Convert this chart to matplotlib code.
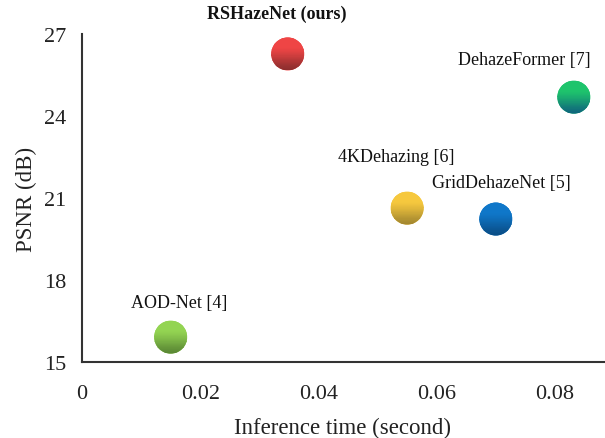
import numpy as np
import matplotlib
matplotlib.use("Agg")
import matplotlib.pyplot as plt
from matplotlib.patches import Circle, Rectangle
from matplotlib.transforms import ScaledTranslation
from matplotlib.colors import to_rgb

methods = ["RSHazeNet (ours)", "DehazeFormer [7]", "4KDehazing [6]", "GridDehazeNet [5]", "AOD-Net [4]"]
times = [0.0348, 0.0832, 0.0550, 0.0700, 0.0150]
psnr = [26.27, 24.69, 20.63, 20.23, 15.91]
top_colors = ["#ef4545", "#1ec46c", "#f6c83e", "#0f77c9", "#93d452"]
bottom_colors = ["#8c2e2e", "#0f667c", "#a3872f", "#0a4d86", "#5a8734"]
label_offsets = [(-8, 29), (-36, 27), (-8, 37), (4, 26), (6, 25)]
bold = [True, False, False, False, False]
xticks = [0, 0.02, 0.04, 0.06, 0.08]
xtick_labels = ["0", "0.02", "0.04", "0.06", "0.08"]
yticks = [15, 18, 21, 24, 27]

plt.rcParams['font.family'] = ['Liberation Serif', 'DejaVu Serif']

fig = plt.figure(figsize=(6.05, 4.39), dpi=100)
ax = fig.add_axes([82/605, 1-363/439, 522/605, (363-35)/439])
ax.set_xlim(0, 0.0883)
ax.set_ylim(15, 27)
ax.set_xticks(xticks)
ax.set_xticklabels(xtick_labels)
ax.set_yticks(yticks)
for s in ["top", "right"]:
    ax.spines[s].set_visible(False)
for s in ["left", "bottom"]:
    ax.spines[s].set_color("#333333")
    ax.spines[s].set_linewidth(1.5)
ax.tick_params(axis="both", length=0, labelsize=16, colors="#222222")
ax.tick_params(axis="x", pad=16)
ax.tick_params(axis="y", pad=11)
ax.set_xlabel("Inference time (second)", fontsize=16.5, color="#222222", labelpad=9.5)
ax.set_ylabel("PSNR (dB)", fontsize=16.5, color="#222222", labelpad=5)

r = 0.165  # inches
nstrip = 60
for x, y, ct, cb, lab, off, b in zip(times, psnr, top_colors, bottom_colors, methods, label_offsets, bold):
    tr = fig.dpi_scale_trans + ScaledTranslation(x, y, ax.transData)
    circ = Circle((0, 0), r, transform=tr, facecolor=ct, edgecolor="none", zorder=3)
    ax.add_patch(circ)
    c0 = np.array(to_rgb(ct)); c1 = np.array(to_rgb(cb))
    h = 2 * r / nstrip
    for i in range(nstrip):
        t = (i + 0.5) / nstrip  # 0 top, 1 bottom
        u = np.clip((t - 0.3) / 0.7, 0, 1)
        u = u * u * (3 - 2 * u) * 0.5 + u * 0.5
        col = c0 * (1 - u) + c1 * u
        yb = r - (i + 1) * h
        rect = Rectangle((-r, yb), 2 * r, h * 1.2, transform=tr, facecolor=col,
                         edgecolor="none", zorder=4)
        rect.set_clip_path(circ)
        ax.add_patch(rect)
    ax.annotate(lab, (x, y), xytext=off, textcoords="offset points", ha="center", va="center",
                fontsize=13, fontweight="bold" if b else "normal", color="#111111",
                annotation_clip=False)

fig.savefig("out.png", dpi=100)
